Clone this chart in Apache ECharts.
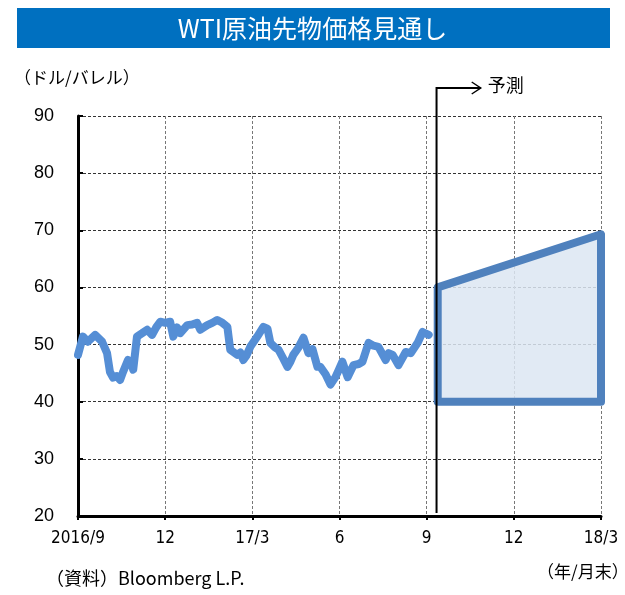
<!DOCTYPE html>
<html>
<head>
<meta charset="utf-8">
<script src="https://cdn.jsdelivr.net/npm/echarts@6/dist/echarts.min.js"></script>
<style>
  html, body { margin: 0; padding: 0; background: #fff; }
  #main { width: 625px; height: 595px; }
</style>
</head>
<body>
<div id="main"></div>
<script>
  // x軸ラベル（3か月ごと、月末）
  var tickLabels = ['2016/9', '12', '17/3', '6', '9', '12', '18/3'];

  // 2016/9末からの経過月数
  var months = [0, 0.17, 0.34, 0.59, 0.83, 1.0, 1.10, 1.21, 1.34, 1.45, 1.55, 1.72, 1.83, 1.90,
    2.03, 2.21, 2.38, 2.55, 2.69, 2.83, 3.0, 3.17, 3.28, 3.41, 3.52, 3.76, 3.93, 4.10, 4.21,
    4.45, 4.62, 4.79, 4.97, 5.14, 5.24, 5.48, 5.59, 5.69, 5.79, 5.93, 6.17, 6.38, 6.52, 6.62,
    6.76, 6.90, 7.07, 7.21, 7.31, 7.41, 7.59, 7.76, 7.93, 8.07, 8.24, 8.34, 8.52, 8.69, 8.86,
    8.97, 9.10, 9.28, 9.48, 9.66, 9.79, 10.0, 10.17, 10.34, 10.59, 10.69, 10.83, 11.03, 11.28,
    11.45, 11.69, 11.86, 12.07];
  // WTI先物価格（ドル/バレル）
  var prices = [48.2, 51.4, 50.5, 51.7, 50.5, 48.5, 45.2, 44.2, 44.5, 43.8, 45.2, 47.3, 47, 45.6,
    51.4, 52.0, 52.6, 51.7, 53, 54.0, 53.8, 54.0, 51.4, 53, 52, 53.4, 53.5, 53.8, 52.6,
    53.4, 53.8, 54.3, 53.8, 53.1, 49.1, 48.2, 48.6, 47.3, 48, 49.6, 51.4, 53.1, 52.8, 50.3,
    49.6, 49.1, 47.5, 46.1, 47, 48.2, 49.5, 51.2, 48.5, 49.2, 46.1, 46.1, 44.8, 43, 44.3,
    45.5, 47, 44.3, 46.4, 46.6, 47, 50.3, 49.8, 49.6, 47.3, 48.5, 48.2, 46.4, 48.7,
    48.5, 50.3, 52.2, 51.7];

  // 予測レンジ
  var forecastMonths = [12.38, 18];
  var forecastHigh = [60, 69.3];
  var forecastLow = [40, 40];

  // 予測開始の縦線
  var forecastStart = 12.34;

  var series = [];
  for (var i = 0; i < months.length; i++) {
    series.push([months[i], prices[i]]);
  }

  var myChart = echarts.init(document.getElementById('main'));
  myChart.setOption({
    backgroundColor: '#fff',
    animation: false,
    title: {
      text: 'WTI原油先物価格見通し',
      left: 'center',
      top: 11,
      textStyle: { color: '#fff', fontSize: 25, fontWeight: 'normal', fontFamily: 'Noto Sans CJK JP' }
    },
    grid: { left: 78, right: 24, top: 116, bottom: 79 },
    xAxis: {
      type: 'value',
      min: 0,
      max: 18,
      interval: 3,
      axisLine: { lineStyle: { color: '#000', width: 3 } },
      axisTick: { show: true, length: 4, lineStyle: { color: '#000', width: 2 } },
      axisLabel: {
        color: '#000',
        fontSize: 17,
        margin: 14,
        fontFamily: 'DejaVu Sans Condensed, Liberation Sans Narrow, Noto Sans CJK JP',
        formatter: function (v) { return tickLabels[Math.round(v / 3)]; }
      },
      splitLine: { show: true, lineStyle: { color: '#777', type: [3, 2], width: 1 } }
    },
    yAxis: {
      type: 'value',
      min: 20,
      max: 90,
      interval: 10,
      axisLine: { show: true, lineStyle: { color: '#000', width: 3 } },
      axisTick: { show: true, inside: true, length: 5, lineStyle: { color: '#000', width: 2 } },
      axisLabel: { color: '#000', fontSize: 18, margin: 24, fontFamily: 'Liberation Sans' },
      splitLine: { show: true, lineStyle: { color: '#333', type: [3, 2], width: 1 } }
    },
    series: [
      {
        type: 'custom',
        z: 3,
        renderItem: function (params, api) {
          var pts = [];
          pts.push(api.coord([forecastMonths[0], forecastLow[0]]));
          pts.push(api.coord([forecastMonths[0], forecastHigh[0]]));
          pts.push(api.coord([forecastMonths[1], forecastHigh[1]]));
          pts.push(api.coord([forecastMonths[1], forecastLow[1]]));
          return {
            type: 'polygon',
            shape: { points: pts },
            style: { fill: 'rgba(220,230,242,0.85)', stroke: '#4F81BD', lineWidth: 8, lineJoin: 'round' }
          };
        },
        data: [0]
      },
      {
        type: 'line',
        z: 4,
        data: series,
        showSymbol: false,
        smooth: false,
        lineStyle: { color: '#558ED5', width: 8, cap: 'round', join: 'round' }
      }
    ]
  });

  var pBottom = myChart.convertToPixel({ gridIndex: 0 }, [forecastStart, 20]);
  var pTop = myChart.convertToPixel({ gridIndex: 0 }, [forecastStart, 94.9]);
  var pArrow = myChart.convertToPixel({ gridIndex: 0 }, [13.86, 94.9]);

  myChart.setOption({
    graphic: [
      { type: 'rect', z: -1, shape: { x: 17, y: 8, width: 593, height: 40 }, style: { fill: '#0070C0' } },
      { type: 'text', left: 14, top: 69, style: { text: '（ドル/バレル）', fill: '#000', font: '17px "Noto Sans CJK JP"' } },
      { type: 'polyline', z: 5, shape: { points: [[pBottom[0], pBottom[1] - 3], pTop, [pArrow[0], pArrow[1]]] }, style: { stroke: '#000', lineWidth: 2, fill: null } },
      { type: 'polyline', z: 5, shape: { points: [[pArrow[0] - 9, pArrow[1] - 6], pArrow, [pArrow[0] - 9, pArrow[1] + 6]] }, style: { stroke: '#000', lineWidth: 1.5, fill: null } },
      { type: 'text', left: pArrow[0] + 7, top: pArrow[1] - 12, style: { text: '予測', fill: '#000', font: '18px "Noto Sans CJK JP"' } },
      { type: 'text', left: 46, top: 569, style: { text: '（資料）Bloomberg L.P.', fill: '#000', font: '18px "Noto Sans CJK JP"' } },
      { type: 'text', left: 537, top: 563, style: { text: '（年/月末）', fill: '#000', font: '17px "Noto Sans CJK JP"' } }
    ]
  });
</script>
</body>
</html>
